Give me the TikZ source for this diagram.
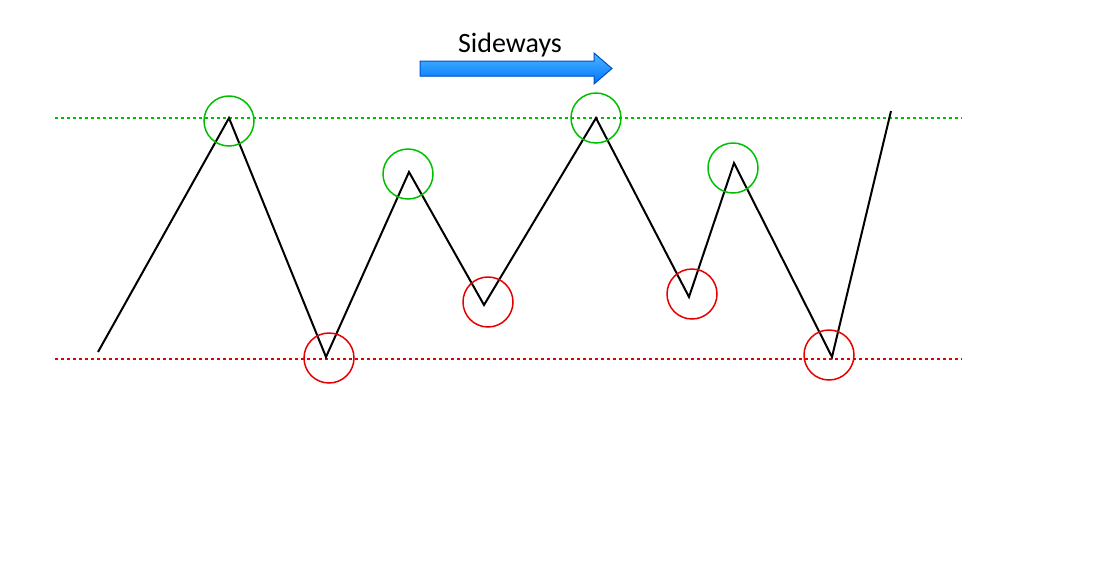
\documentclass[tikz,border=0pt]{standalone}
\usepackage{fontspec}
\setmainfont{Carlito}
\begin{document}
\begin{tikzpicture}[x=1pt,y=-1pt,
  gc/.style={draw=green!75!black,line width=1.5pt,circle,minimum size=50pt,inner sep=0pt},
  rc/.style={draw=red!90!black,line width=1.5pt,circle,minimum size=50pt,inner sep=0pt},
  level/.style={dashed,line width=1.2pt}]
\useasboundingbox (0,0) rectangle (1112,582);
\coordinate (p0) at (98,352);
\coordinate (p1) at (229,118);
\coordinate (p2) at (326,357);
\coordinate (p3) at (409,172);
\coordinate (p4) at (484,305);
\coordinate (p5) at (596,118);
\coordinate (p6) at (689,297);
\coordinate (p7) at (734,163);
\coordinate (p8) at (832,357);
\coordinate (p9) at (891,111);
\coordinate (gl) at (55,118); \coordinate (gr) at (962,118);
\coordinate (rl) at (55,359); \coordinate (rr) at (962,359);
\draw[level,green!75!black] (gl) -- (gr);
\draw[level,red!90!black] (rl) -- (rr);
\draw[line width=2pt,line join=miter] (p0)--(p1)--(p2)--(p3)--(p4)--(p5)--(p6)--(p7)--(p8)--(p9);
\node[gc] (c1) at (229,121) {};
\node[gc] (c2) at (408,174) {};
\node[gc] (c3) at (596,118) {};
\node[gc] (c4) at (733,168) {};
\node[rc] (c5) at (329,358) {};
\node[rc] (c6) at (488,302) {};
\node[rc] (c7) at (692,294) {};
\node[rc] (c8) at (829,355) {};
\node[font=\fontsize{28}{30}\selectfont,anchor=base] (t) at (510,52) {Sideways};
\fill[top color=blue!40!cyan!70, bottom color=blue!55!cyan, draw=blue!60!cyan!80!black, line width=1pt]
  (420,61) -- (594,61) -- (594,53) -- (612,68.5) -- (594,84) -- (594,76) -- (420,76) -- cycle;
\end{tikzpicture}
\end{document}
